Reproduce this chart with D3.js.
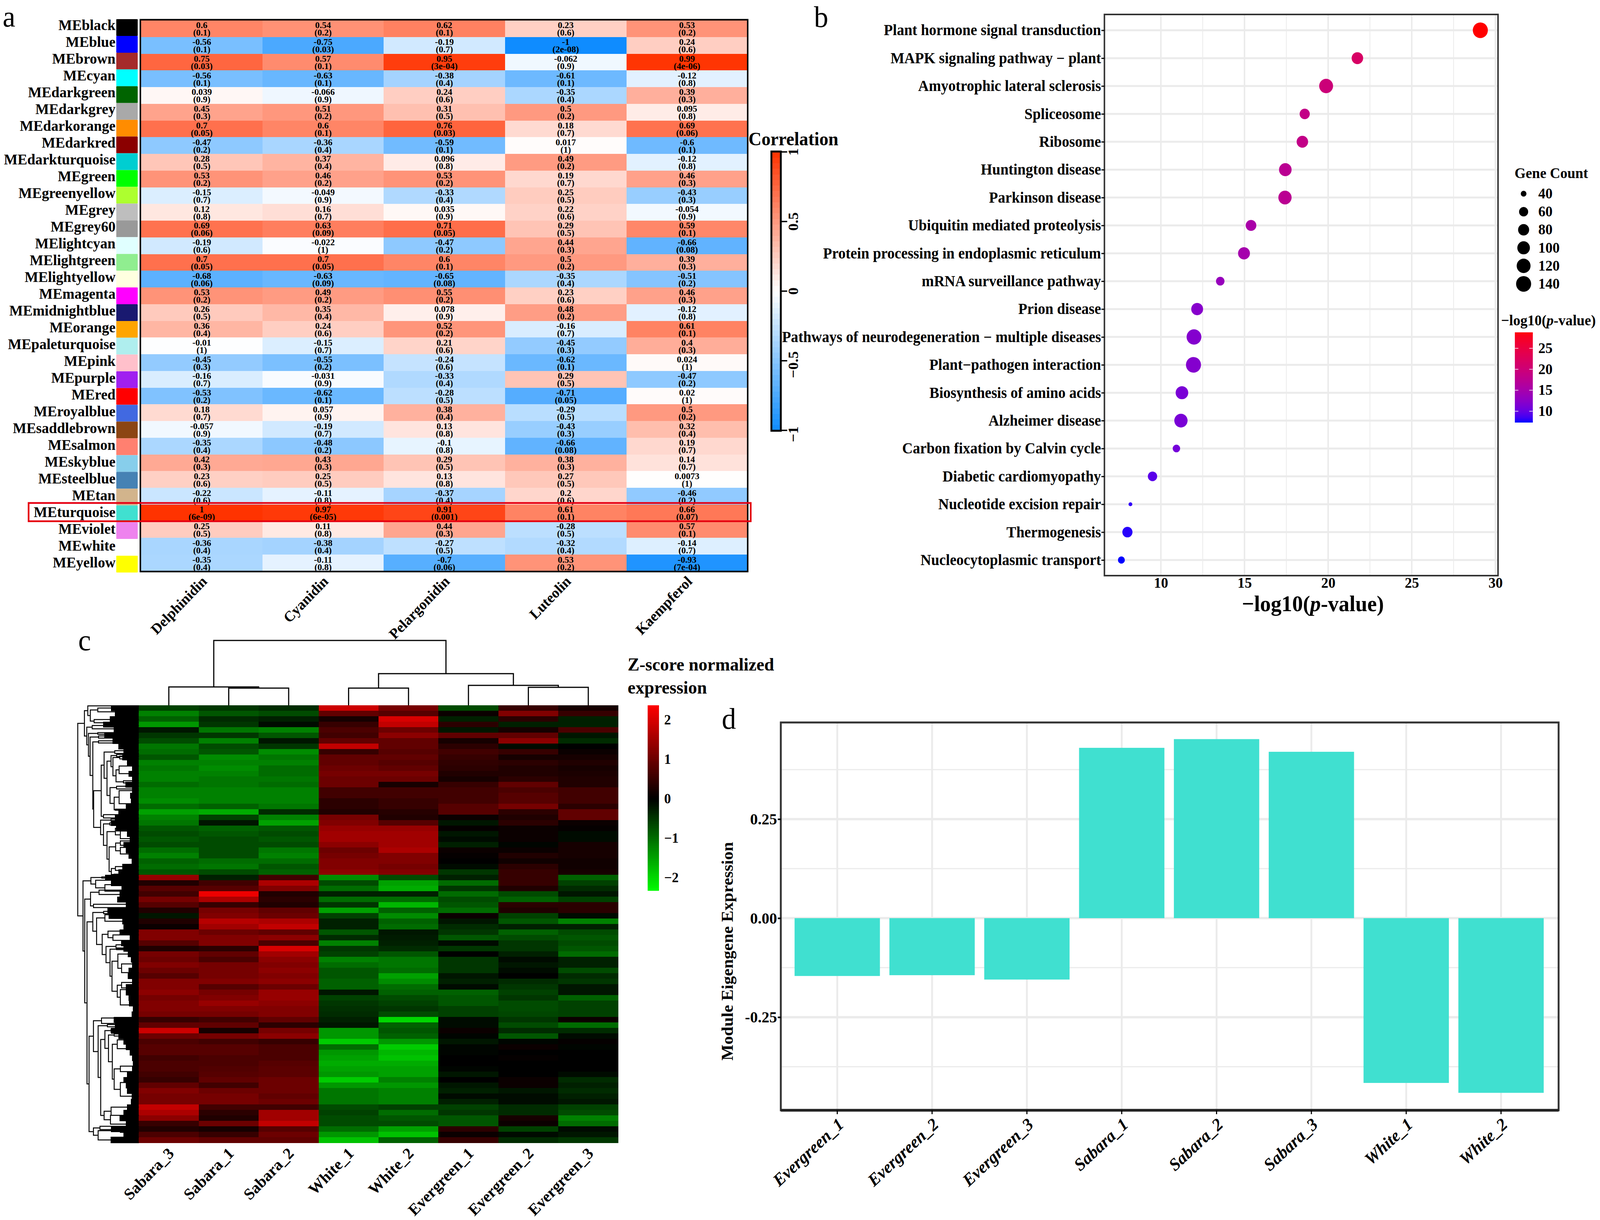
<!DOCTYPE html>
<html><head><meta charset="utf-8">
<script src="https://cdn.jsdelivr.net/npm/d3@7"></script>
<style>
html,body{margin:0;padding:0;background:#fff;overflow:hidden}
svg{display:block;width:100vw;height:100vh}
text{font-family:"Liberation Serif","Times New Roman",serif;fill:#000}
.b{font-weight:700}
</style></head><body>
<svg id="c" viewBox="0 0 4252 3124" preserveAspectRatio="none"></svg>
<script>
// ---------- panel a data ----------
const modules=["black","blue","brown","cyan","darkgreen","darkgrey","darkorange","darkred","darkturquoise","green","greenyellow","grey","grey60","lightcyan","lightgreen","lightyellow","magenta","midnightblue","orange","paleturquoise","pink","purple","red","royalblue","saddlebrown","salmon","skyblue","steelblue","tan","turquoise","violet","white","yellow"];
const moduleSwatches=["#000000","#0000ff","#a52a2a","#00ffff","#006400","#a9a9a9","#ff8c00","#8b0000","#00ced1","#00ff00","#adff2f","#bebebe","#999999","#e0ffff","#90ee90","#ffffe0","#ff00ff","#191970","#ffa500","#afeeee","#ffc0cb","#a020f0","#ff0000","#4169e1","#8b4513","#ff8070","#87ceeb","#4682b4","#d2b48c","#40e0d0","#ee82ee","#ffffff","#ffff00"];
const traits=["Delphinidin","Cyanidin","Pelargonidin","Luteolin","Kaempferol"];
const corrDelphinidin=[.6,-.56,.75,-.56,.039,.45,.7,-.47,.28,.53,-.15,.12,.69,-.19,.7,-.68,.53,.26,.36,-.01,-.45,-.16,-.53,.18,-.057,-.35,.42,.23,-.22,1,.25,-.36,-.35];
const corrCyanidin=[.54,-.75,.57,-.63,-.066,.51,.6,-.36,.37,.46,-.049,.16,.63,-.022,.7,-.63,.49,.35,.24,-.15,-.55,-.031,-.62,.057,-.19,-.48,.43,.25,-.11,.97,.11,-.38,-.11];
const corrPelargonidin=[.62,-.19,.95,-.38,.24,.31,.76,-.59,.096,.53,-.33,.035,.71,-.47,.6,-.65,.55,.078,.52,.21,-.24,-.33,-.28,.38,.13,-.1,.29,.13,-.37,.91,.44,-.27,-.7];
const corrLuteolin=[.23,-1,-.062,-.61,-.35,.5,.18,.017,.49,.19,.25,.22,.29,.44,.5,-.35,.23,.48,-.16,-.45,-.62,.29,-.71,-.29,-.43,-.66,.38,.27,.2,.61,-.28,-.32,.53];
const corrKaempferol=[.53,.24,.99,-.12,.39,.095,.69,-.6,-.12,.46,-.43,-.054,.59,-.66,.39,-.51,.46,-.12,.61,.4,.024,-.47,.02,.5,.32,.19,.14,.0073,-.46,.66,.57,-.14,-.93];
const pDelphinidin=["0.1","0.1","0.03","0.1","0.9","0.3","0.05","0.2","0.5","0.2","0.7","0.8","0.06","0.6","0.05","0.06","0.2","0.5","0.4","1","0.3","0.7","0.2","0.7","0.9","0.4","0.3","0.6","0.6","6e-09","0.5","0.4","0.4"];
const pCyanidin=["0.2","0.03","0.1","0.1","0.9","0.2","0.1","0.4","0.4","0.2","0.9","0.7","0.09","1","0.05","0.09","0.2","0.4","0.6","0.7","0.2","0.9","0.1","0.9","0.7","0.2","0.3","0.5","0.8","6e-05","0.8","0.4","0.8"];
const pPelargonidin=["0.1","0.7","3e-04","0.4","0.6","0.5","0.03","0.1","0.8","0.2","0.4","0.9","0.05","0.2","0.1","0.08","0.2","0.9","0.2","0.6","0.6","0.4","0.5","0.4","0.8","0.8","0.5","0.8","0.4","0.001","0.3","0.5","0.06"];
const pLuteolin=["0.6","2e-08","0.9","0.1","0.4","0.2","0.7","1","0.2","0.7","0.5","0.6","0.5","0.3","0.2","0.4","0.6","0.2","0.7","0.3","0.1","0.5","0.05","0.5","0.3","0.08","0.3","0.5","0.6","0.1","0.5","0.4","0.2"];
const pKaempferol=["0.2","0.6","4e-06","0.8","0.3","0.8","0.06","0.1","0.8","0.3","0.3","0.9","0.1","0.08","0.3","0.2","0.3","0.8","0.1","0.3","1","0.2","1","0.2","0.4","0.7","0.7","1","0.2","0.07","0.1","0.7","7e-04"];
const corrTicks=[1,.5,0,-.5,-1];
// ---------- panel b data ----------
const pathways=["Plant hormone signal transduction","MAPK signaling pathway − plant","Amyotrophic lateral sclerosis","Spliceosome","Ribosome","Huntington disease","Parkinson disease","Ubiquitin mediated proteolysis","Protein processing in endoplasmic reticulum","mRNA surveillance pathway","Prion disease","Pathways of neurodegeneration − multiple diseases","Plant−pathogen interaction","Biosynthesis of amino acids","Alzheimer disease","Carbon fixation by Calvin cycle","Diabetic cardiomyopathy","Nucleotide excision repair","Thermogenesis","Nucleocytoplasmic transport"];
const pathwayLogP=[29.1,21.75,19.88,18.6,18.46,17.44,17.42,15.39,14.97,13.55,12.17,11.98,11.95,11.26,11.2,10.93,9.5,8.18,8.0,7.64];
const pathwayCount=[140,85,120,70,85,100,110,75,90,55,90,135,140,100,110,48,62,37,70,45];
const logPTicks=[10,15,20,25,30];
const logPMinor=[12.5,17.5,22.5,27.5];
const sizeLegend=[40,60,80,100,120,140];
const colorLegendTicks=[25,20,15,10];
// ---------- panel c data ----------
const heatSamples=["Sabara_3","Sabara_1","Sabara_2","White_1","White_2","Evergreen_1","Evergreen_2","Evergreen_3"];
const exprMatrix=[
[-.6,-.5,-.4,1.9,1.1,-.7,.5,.2],[-1.2,-.8,-.7,.9,.8,.1,1.2,.5],[-.9,-.4,-.3,.2,2,-.3,.4,-.3],[-1.4,-.5,-.1,.5,1.8,.4,-.3,-.3],
[-.2,-1.1,-1.2,.7,1,-.2,.2,.7],[-.5,-.5,-.8,.6,1.3,.9,.9,-.2],[-.7,-1.2,-.2,.9,.9,.2,1.3,-.4],[-1.1,-.7,-.5,1.8,.9,.4,-.1,0],
[-1,-.8,-1.3,.5,.8,.6,.5,.1],[-.8,-1.3,-1.1,.9,.9,.5,.2,.2],[-1.2,-1.2,-1.2,.9,.8,.45,.4,.3],[-1.1,-1.3,-1,1,.9,.4,.3,.2],
[-1.2,-1.2,-1,1.1,1.1,.3,.3,.25],[-1.2,-1.1,-1.1,1,1,.2,.4,.3],[-1,-1.1,-1,1,.2,.5,.9,.3],[-1.2,-1.2,-1.2,.6,.6,.6,.7,.6],
[-1.2,-1.2,-1.2,.6,.6,.6,.8,.6],[-1.3,-1.2,-1.2,.4,.5,.6,.8,.6],[-1,-.9,-1.1,.4,.5,.8,1.1,.4],[-1.5,-1.6,-.4,.3,.35,.8,.4,.9],
[-1.2,-.6,-1.2,1.1,.3,.1,.3,.9],[-1.1,-.2,-1.5,1.2,.8,-.2,.4,.1],[-.8,-.9,-.8,1.4,1.4,.05,.1,.05],[-.7,-.8,-.7,1.5,1.5,-.2,.1,-.1],
[-.8,-.7,-.8,1.5,1.5,-.1,.1,-.1],[-.7,-.7,-.7,1.3,1.5,-.3,-.05,.2],[-1,-.7,-1.1,1,1.6,.1,.1,.2],[-1.2,-.7,-1.2,1.1,1.2,.05,.3,.2],
[-.9,-1,-1,1.2,1.2,0,.15,.15],[-1,-1.1,-.8,1.2,1.1,-.1,.4,.15],[-.8,-.7,-.9,1.3,1.2,-.5,.5,.2],[1.4,-.3,.6,-1.3,-.7,-.3,.5,-.9],
[.3,.6,1.6,-.7,-1.5,-1,.5,-.6],[.8,.8,1.2,-1,-1.6,-.5,.3,-.4],[.6,2.2,.3,-.3,-.3,-1,-.7,-.2],[1.1,1.6,.4,-1,-1,-.7,-.9,-.6],
[.8,.5,.3,-.5,-1.7,-.8,.4,.4],[.3,1.1,.9,-1.5,-.9,-1,.3,.4],[-.2,1.2,1,-.6,-1.3,.1,-.6,-.1],[.3,1.7,1.6,-.3,-.9,-.2,-.8,-1.2],
[.1,1.5,1.8,-.3,-1,-.4,-.3,-.3],[1.2,1,.9,-.8,-.2,-.5,-.9,-.7],[1.2,1.2,1.3,-.4,-.25,-.8,-.7,-.8],[.8,1.2,.7,-1.2,-.3,-.1,-.5,-.7],
[.3,.4,2,-.5,-.4,-.5,-.5,-.8],[1.1,.9,1.5,-.6,-.8,0,-.3,-1],[1,.7,1.3,-1.2,-1.1,-.5,-.1,-.3],[1.2,1.1,1.2,-1,-1.1,-.5,-.2,-.3],
[1,1.1,1.3,-.8,-1,-.5,-.1,-.7],[.8,1.1,1.2,-.8,-1.5,-.2,0,-.4],[1.2,1.2,1.3,-.9,-1.3,-.3,-.4,-.5],[1.2,.8,1,-.9,-1,-.1,-.5,-.2],
[1.3,1.1,1.4,-.2,-.9,-.9,-.6,-.2],[1.1,1.2,1.4,-.6,-.7,-.8,-.5,-.9],[1.2,1.4,1.3,-.5,-.6,-.8,-.7,-.6],[1.2,1.2,1.2,-.45,-.5,-.6,-.7,-.6],
[1.1,1.1,1.2,-.4,-.7,-.6,-.65,-.6],[.5,.6,.9,-.3,-2,-.1,-.5,.1],[.9,.9,.4,-.2,-.9,-.1,-.7,-1],[1.9,.2,1.1,-1.4,-.8,.1,-.4,-.4],
[1,1.1,1.3,-1.4,-.9,-.05,-.8,-.1],[.7,.6,.5,-1.9,-1.4,-.2,-.05,.05],[.8,.8,.7,-1,-1.9,-.05,.1,-.05],[.8,.8,.7,-1.4,-1.7,-.05,0,0],
[.6,.7,.7,-1.5,-1.8,0,.05,0],[.7,.7,.8,-1.6,-1.6,0,0,0],[.7,.75,.85,-1.5,-1.5,-.05,0,0],[.6,.8,.85,-1.4,-1.5,-.2,0,-.1],
[.5,.9,1,-1.9,-1.2,0,.1,-.4],[.9,.6,1,-1.4,-1.4,-.2,.1,-.3],[1.2,1,1,-1.1,-1.2,-.3,-.2,-.4],[1.1,1.1,.9,-1.1,-1.2,-.1,-.1,-.3],
[1.1,1.1,1,-1.1,-1.2,-.3,-.1,-.2],[1.8,.6,.6,-.7,-.6,-.6,-.4,-.6],[1.6,.4,1.5,-.6,-1,-.5,-.4,-.7],[1.3,.3,1.5,-.7,-.8,-.8,.2,-1.2],
[.5,1,1.8,-.7,-.7,-.8,.1,-1],[.3,.2,.8,-1,-1.5,.4,-.6,-.1],[.7,.5,1,-1.4,-1.8,.1,-.1,-.2],[1,.9,.9,-1.8,-.9,.5,-.4,-.5]];
const exprTicks=[2,1,0,-1,-2];
// [height, left, right]; a bare number is a heatmap column index
const colTree=[1,[.283,0,[.265,1,2]],[.488,[.265,3,4],[.307,5,[.277,6,7]]]];
// [height, left, right]; a bare number is a row position in the heatmap
const rowTree=[.99,
 [.882,
  [.827,.1,[.787,[.665,.5,1.2],[.725,2.6,3.2]]],
  [.844,[.756,3.7,4.3],
   [.817,[.665,5,5.3],
    [.79,[.654,5.6,6],
     [.746,[.654,6.5,6.9],
      [.732,
       [.61,
        [.563,[.39,8.3,8.8],
         [.516,
          [.451,[.36,9,9.4],[.42,[.31,9.3,9.8],[.37,[.32,11.1,12.5],[.25,13.8,14.2]]]],
          [.467,[.36,14.8,15.3],[.4,[.32,15.6,18],[.38,19,19.2]]]]],
        [.573,20,20.6]],
       [.62,[.451,20.8,21.2],[.573,[.47,21.5,21.9],[.516,[.38,22.5,[.3,23,24.4]],[.482,[.376,[.3,24.8,25.6],[.3,26,27.2]],[.446,[.38,29.5,30.2],[.4,30.9,31]]]]]]
      ]]]]]],
 [.905,
  [.777,[.6,31.4,31.6],[.7,32,[.55,32.8,34]]],
  [.877,
   [.783,[.645,33.8,34.6],[.735,36.4,37]],
   [.84,
    [.746,[.57,37.7,38.1],
     [.685,[.55,38.3,39.5],
      [.594,[.5,41.3,[.42,42,43]],
       [.532,[.37,43.8,44.4],
        [.467,[.36,44.5,44.7],
         [.435,[.34,45.5,[.28,47.3,48.9]],
          [.35,[.28,50.7,51.7],[.3,52,54.8]]]]]]]],
    [.807,
     [.736,[.605,57.2,58.2],
      [.66,[.51,58.4,58.8],
       [.618,
        [.55,[.45,59.2,59.8],
         [.492,[.4,60.1,60.5],
          [.43,[.35,61.2,62.8],[.4,[.3,66,67],[.3,69,71.5]]]]],
        [.563,[.45,73.5,75],[.46,75,76.6]]]]],
     [.736,[.63,77,77.6],[.66,[.3,77.5,78.1],[.45,79,80]]]]]]]];
// tree height where the dense leaf mass begins, per heatmap row
const leafMass=[.45,.39,.47,.58,.41,.56,.43,.33,.25,.27,.19,.11,.17,.11,.22,.11,.14,.13,.21,.33,.39,.45,.37,.19,.15,.25,.21,.17,.12,.27,.33,.55,.45,.28,.31,.35,.21,.51,.49,.27,.25,.31,.15,.29,.25,.18,.13,.11,.17,.18,.11,.21,.21,.17,.16,.1,.12,.41,.39,.45,.33,.25,.21,.15,.11,.1,.11,.19,.25,.21,.19,.12,.13,.19,.25,.31,.21,.45,.25,.45];
// ---------- panel d data ----------
const meSamples=["Evergreen_1","Evergreen_2","Evergreen_3","Sabara_1","Sabara_2","Sabara_3","White_1","White_2"];
const meValues=[-.146,-.144,-.155,.43,.452,.42,-.416,-.441];
const meTicks=[.25,0,-.25];
const meMinor=[.375,.125,-.125,-.375];
const panelLetters=["a","b","c","d"];

const svg=d3.select("#c");
const bold=(g,size)=>g.attr("class","b").attr("font-size",size);
const cleanAxis=g=>{g.select(".domain").remove();g.selectAll("text").attr("class","b").style("font-family",'"Liberation Serif"');};

svg.selectAll(".letter").data(panelLetters).join("text").attr("class","letter").attr("font-size",76)
 .attr("x",(d,i)=>[7,2163,208,1918][i]).attr("y",(d,i)=>[68,69,1665,1866][i]).text(d=>d);

// ================= panel a =================
(function(){
 const g=svg.append("g");
 const corr=[corrDelphinidin,corrCyanidin,corrPelargonidin,corrLuteolin,corrKaempferol];
 const pv=[pDelphinidin,pCyanidin,pPelargonidin,pLuteolin,pKaempferol];
 const x=d3.scaleBand().domain(traits).range([375,1987]);
 const y=d3.scaleBand().domain(modules).range([52,1463]);
 const ySw=d3.scaleBand().domain(modules).range([49,1466]);
 const yLab=d3.scalePoint().domain(modules).range([66,1442]);
 const color=d3.scaleLinear().domain([-1,0,1]).range(["#0f8cff","#ffffff","#ff3300"]);
 const cells=traits.flatMap((t,c)=>modules.map((m,r)=>({t,m,v:corr[c][r],p:pv[c][r]})));
 g.selectAll("rect.cell").data(cells).join("rect").attr("class","cell")
  .attr("x",d=>x(d.t)).attr("y",d=>y(d.m)).attr("width",x.bandwidth()+.5).attr("height",y.bandwidth()+.5)
  .attr("fill",d=>color(d.v)).attr("shape-rendering","crispEdges");
 g.selectAll("text.v").data(cells).join("text").attr("class","v b").attr("text-anchor","middle").attr("font-size",24)
  .attr("x",d=>x(d.t)+x.bandwidth()/2).attr("y",d=>y(d.m)+y.bandwidth()/2-1).text(d=>String(d.v));
 g.selectAll("text.p").data(cells).join("text").attr("class","p b").attr("text-anchor","middle").attr("font-size",24)
  .attr("x",d=>x(d.t)+x.bandwidth()/2).attr("y",d=>y(d.m)+y.bandwidth()/2+18).text(d=>"("+d.p+")");
 g.append("rect").attr("x",373).attr("y",50.5).attr("width",1614).attr("height",1413).attr("fill","none").attr("stroke","#000").attr("stroke-width",4);
 g.selectAll("rect.sw").data(modules).join("rect").attr("class","sw")
  .attr("x",309).attr("width",57).attr("y",d=>ySw(d)).attr("height",ySw.bandwidth()).attr("rx",1.5)
  .attr("fill",(d,i)=>moduleSwatches[i]);
 g.selectAll("text.mod").data(modules).join("text").attr("class","mod b").attr("text-anchor","end").attr("font-size",38.5)
  .attr("x",307).attr("y",d=>yLab(d)+11).text(d=>"ME"+d);
 g.selectAll("text.tr").data(traits).join("text").attr("class","tr b").attr("text-anchor","end").attr("font-size",38)
  .attr("transform",d=>`translate(${x(d)+x.bandwidth()/2+16},1491) rotate(-45)`).text(d=>d);
 g.append("rect").attr("x",76).attr("y",y("turquoise")-4).attr("width",1919).attr("height",y.bandwidth()+4).attr("fill","none").attr("stroke","#e60012").attr("stroke-width",4.5);
 const cy=d3.scaleLinear().domain([-1,1]).range([1102,389]);
 bold(g.append("text"),48).attr("x",1989).attr("y",372).text("Correlation");
 const steps=d3.range(50).map(i=>-1+(i+.5)*2/50);
 g.selectAll("rect.cb").data(steps).join("rect").attr("class","cb").attr("x",2050).attr("width",25)
  .attr("y",d=>cy(d+.02)).attr("height",cy(-.98)-cy(-.94)+.6).attr("fill",d=>color(d)).attr("shape-rendering","crispEdges");
 g.append("rect").attr("x",2050).attr("y",388).attr("width",25).attr("height",715).attr("fill","none").attr("stroke","#000").attr("stroke-width",5);
 g.selectAll("line.ct").data(corrTicks).join("line").attr("class","ct").attr("x1",2076).attr("x2",2092).attr("y1",d=>cy(d)).attr("y2",d=>cy(d)).attr("stroke","#000").attr("stroke-width",3.5);
 g.selectAll("text.ctl").data(corrTicks).join("text").attr("class","ctl b").attr("text-anchor","middle").attr("font-size",38)
  .attr("transform",d=>`translate(2121,${cy(d)+(d<0?10:0)}) rotate(-90)`).text(d=>d<0?"−"+Math.abs(d):String(d));
})();

// ================= panel b =================
(function(){
 const g=svg.append("g");
 const L=2935,R=3981,T=37,B=1474;
 const x=d3.scaleLinear().domain([10,30]).range([3085,3974]);
 const y=d3.scalePoint().domain(pathways).range([77.5,1434]);
 const col=d3.scaleLinear().domain([7.64,29.1]).range(["#0000ff","#ff0000"]).interpolate(d3.interpolateLab);
 const area=d3.scaleLinear().domain([37,140]).range([0,1]);
 const rad=d3.scaleSqrt().domain([0,1]).range([5,20]);
 const r=v=>rad(area(v));
 g.selectAll("line.gm").data(logPMinor).join("line").attr("class","gm").attr("x1",d=>x(d)).attr("x2",d=>x(d)).attr("y1",T).attr("y2",B).attr("stroke","#ebebeb").attr("stroke-width",2);
 g.selectAll("line.gv").data(logPTicks).join("line").attr("class","gv").attr("x1",d=>x(d)).attr("x2",d=>x(d)).attr("y1",T).attr("y2",B).attr("stroke","#ebebeb").attr("stroke-width",4);
 g.selectAll("line.gh").data(pathways).join("line").attr("class","gh").attr("x1",L).attr("x2",R).attr("y1",d=>y(d)).attr("y2",d=>y(d)).attr("stroke","#ebebeb").attr("stroke-width",5);
 g.selectAll("circle.pt").data(pathways).join("circle").attr("class","pt")
  .attr("cx",(d,i)=>x(pathwayLogP[i])).attr("cy",d=>y(d)).attr("r",(d,i)=>r(pathwayCount[i])).attr("fill",(d,i)=>col(pathwayLogP[i]));
 g.append("rect").attr("x",L).attr("y",T).attr("width",R-L).attr("height",B-T).attr("fill","none").attr("stroke","#333").attr("stroke-width",4);
 const ax=g.append("g").attr("transform",`translate(${L},0)`).call(d3.axisLeft(y).tickSize(8).tickPadding(1)).call(cleanAxis);
 ax.selectAll("text").attr("font-size",39).attr("fill","#000"); ax.selectAll("line").attr("stroke","#000").attr("stroke-width",3);
 const bx=g.append("g").attr("transform",`translate(0,${B})`).call(d3.axisBottom(x).tickValues(logPTicks).tickSize(0).tickPadding(4)).call(cleanAxis);
 bx.selectAll("text").attr("font-size",38).attr("fill","#000").attr("dy",".71em");
 const t=bold(g.append("text"),57).attr("x",3489).attr("y",1565).attr("text-anchor","middle");
 t.append("tspan").text("−log10("); t.append("tspan").attr("font-style","italic").text("p"); t.append("tspan").text("-value)");
 bold(g.append("text"),38).attr("x",4025).attr("y",456).text("Gene Count");
 const ly=d3.scalePoint().domain(sizeLegend).range([496,727]);
 g.selectAll("circle.ls").data(sizeLegend).join("circle").attr("class","ls").attr("cx",4049).attr("cy",d=>ly(d)).attr("r",d=>r(d)).attr("fill","#000");
 g.selectAll("text.ls").data(sizeLegend).join("text").attr("class","ls b").attr("font-size",38).attr("x",4088).attr("y",d=>ly(d)+12).text(d=>d);
 const t2=bold(g.append("text"),38).attr("x",3989).attr("y",833);
 t2.append("tspan").text("−log10("); t2.append("tspan").attr("font-style","italic").text("p"); t2.append("tspan").text("-value)");
 const cy=d3.scaleLinear().domain([7.3,28.8]).range([1082,851]);
 const st=d3.range(60).map(i=>7.3+(i+.5)*21.5/60);
 g.selectAll("rect.cl").data(st).join("rect").attr("class","cl").attr("x",4026).attr("width",47).attr("y",d=>cy(d)-2.4).attr("height",4.8).attr("fill",d=>col(Math.max(7.64,d))).attr("shape-rendering","crispEdges");
 colorLegendTicks.forEach(v=>{
  [[4026,4035],[4064,4073]].forEach(p=>g.append("line").attr("x1",p[0]).attr("x2",p[1]).attr("y1",cy(v)).attr("y2",cy(v)).attr("stroke","#fff").attr("stroke-width",1.5));
 });
 g.selectAll("text.cll").data(colorLegendTicks).join("text").attr("class","cll b").attr("font-size",38).attr("x",4088).attr("y",d=>cy(d)+12).text(d=>d);
})();

// ================= panel c =================
(function(){
 const g=svg.append("g");
 const x=d3.scaleBand().domain(heatSamples).range([369,1643]);
 const rows=d3.range(exprMatrix.length);
 const y=d3.scaleBand().domain(rows).range([1806,2926]);
 const col=d3.scaleLinear().domain([-2.37,0,2.37]).range(["#00ff00","#000000","#ff0000"]);
 const cells=rows.flatMap(r=>heatSamples.map((s,c)=>({r,s,v:exprMatrix[r][c]})));
 g.selectAll("rect.h").data(cells).join("rect").attr("class","h").attr("x",d=>x(d.s)).attr("y",d=>y(d.r))
  .attr("width",x.bandwidth()+.5).attr("height",y.bandwidth()+.5).attr("fill",d=>col(d.v)).attr("shape-rendering","crispEdges");
 g.selectAll("text.s").data(heatSamples).join("text").attr("class","s b").attr("text-anchor","end").attr("font-size",41.5)
  .attr("transform",d=>`translate(${x(d)+x.bandwidth()/2+16},2956) rotate(-45)`).text(d=>d);
 const hy=d3.scaleLinear().domain([0,1]).range([1806,1640]);
 const p=d3.path();
 const colPos=n=>{ if(typeof n==="number") return {a:x(heatSamples[n])+x.bandwidth()/2,h:0};
  const A=colPos(n[1]),B=colPos(n[2]);
  p.moveTo(A.a,hy(A.h));p.lineTo(A.a,hy(n[0]));p.lineTo(B.a,hy(n[0]));p.lineTo(B.a,hy(B.h));
  return {a:(A.a+B.a)/2,h:n[0]}; };
 colPos(colTree);
 g.append("path").attr("d",p.toString()).attr("fill","none").attr("stroke","#000").attr("stroke-width",3);
 const hx=d3.scaleLinear().domain([0,1]).range([369,205]);
 const u=d3.scaleLinear().domain([0,exprMatrix.length]).range([1806,2926]);
 g.selectAll("rect.mass").data(leafMass).join("rect").attr("class","mass").attr("x",d=>hx(d)).attr("y",(d,i)=>y(i))
  .attr("width",d=>369-hx(d)).attr("height",y.bandwidth()+.5).attr("fill","#000").attr("shape-rendering","crispEdges");
 const q=d3.path();
 const rowPos=n=>{ if(typeof n==="number") return {a:u(n),h:0};
  const A=rowPos(n[1]),B=rowPos(n[2]);
  q.moveTo(hx(A.h),A.a);q.lineTo(hx(n[0]),A.a);q.lineTo(hx(n[0]),B.a);q.lineTo(hx(B.h),B.a);
  return {a:(A.a+B.a)/2,h:n[0]}; };
 rowPos(rowTree);
 g.append("path").attr("d",q.toString()).attr("fill","none").attr("stroke","#000").attr("stroke-width",2.5);
 bold(g.append("text"),47).attr("x",1668).attr("y",1717).text("Z-score normalized");
 bold(g.append("text"),47).attr("x",1668).attr("y",1776).text("expression");
 const cy=d3.scaleLinear().domain([-2.34,2.37]).range([2281,1806]);
 const st=d3.range(100).map(i=>-2.34+(i+.5)*4.71/100);
 g.selectAll("rect.c").data(st).join("rect").attr("class","c").attr("x",1721).attr("width",30).attr("y",d=>cy(d)-2.6).attr("height",5.2).attr("fill",d=>col(d)).attr("shape-rendering","crispEdges");
 g.selectAll("text.cl2").data(exprTicks).join("text").attr("class","cl2 b").attr("font-size",36).attr("x",1765).attr("y",d=>cy(d)+12).text(d=>d<0?"−"+Math.abs(d):d);
})();

// ================= panel d =================
(function(){
 const g=svg.append("g");
 const L=2075,R=4142,T=1850,B=2843;
 const x=d3.scaleBand().domain(meSamples).range([2099,4115]).paddingInner(.1).paddingOuter(.05);
 const y=d3.scaleLinear().domain([-.485,.494]).range([B,T]);
 g.selectAll("line.m").data(meMinor).join("line").attr("class","m").attr("x1",L).attr("x2",R).attr("y1",d=>y(d)).attr("y2",d=>y(d)).attr("stroke","#ebebeb").attr("stroke-width",3);
 g.selectAll("line.M").data(meTicks).join("line").attr("class","M").attr("x1",L).attr("x2",R).attr("y1",d=>y(d)).attr("y2",d=>y(d)).attr("stroke","#ebebeb").attr("stroke-width",6);
 g.selectAll("line.v").data(meSamples).join("line").attr("class","v").attr("x1",d=>x(d)+x.bandwidth()/2).attr("x2",d=>x(d)+x.bandwidth()/2).attr("y1",T).attr("y2",B).attr("stroke","#ebebeb").attr("stroke-width",5);
 g.selectAll("rect.bar").data(meSamples).join("rect").attr("class","bar").attr("x",d=>x(d)).attr("width",x.bandwidth())
  .attr("y",(d,i)=>Math.min(y(0),y(meValues[i]))).attr("height",(d,i)=>Math.abs(y(meValues[i])-y(0))).attr("fill","#40e0d0");
 g.append("rect").attr("x",L).attr("y",T).attr("width",R-L).attr("height",B-T).attr("fill","none").attr("stroke","#333").attr("stroke-width",5);
 g.append("line").attr("x1",L).attr("x2",R).attr("y1",B).attr("y2",B).attr("stroke","#222").attr("stroke-width",7);
 const ay=g.append("g").attr("transform",`translate(${L},0)`).call(d3.axisLeft(y).tickValues(meTicks).tickSize(8).tickPadding(2).tickFormat(d3.format(".2f"))).call(cleanAxis);
 ay.selectAll("text").attr("font-size",41).attr("fill","#000").text(d=>d3.format(".2f")(d).replace("−","-")); ay.selectAll("line").attr("stroke","#000").attr("stroke-width",4);
 const ax=g.append("g").attr("transform",`translate(0,${B})`).call(d3.axisBottom(x).tickSize(10).tickFormat(""));
 ax.select(".domain").remove(); ax.selectAll("line").attr("stroke","#000").attr("stroke-width",3);
 g.selectAll("text.tk").data(meSamples).join("text").attr("class","tk b").attr("font-style","italic").attr("text-anchor","end").attr("font-size",44.5)
  .attr("transform",d=>`translate(${x(d)+x.bandwidth()/2+20},2883) rotate(-42)`).text(d=>d);
 bold(g.append("text"),43.5).attr("text-anchor","middle").attr("transform","translate(1947,2436) rotate(-90)").text("Module Eigengene Expression");
})();
</script>
</body></html>
